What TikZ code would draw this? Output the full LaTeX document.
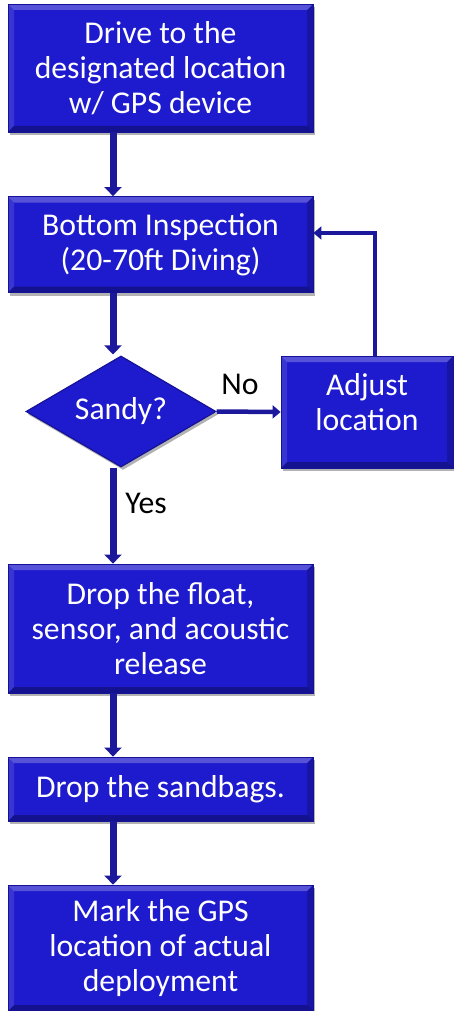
\documentclass[tikz,border=0pt]{standalone}
\usepackage{fontspec}
\setmainfont{Carlito}
\usetikzlibrary{shapes.geometric,arrows.meta,shadows}
\definecolor{boxblue}{RGB}{30,26,205}
\definecolor{boxedge}{RGB}{22,18,150}
\definecolor{arrblue}{RGB}{28,24,155}
\tikzset{
  x=1pt,y=1pt,
  bevel/.style={path picture={
    \fill[white,opacity=0.25] (path picture bounding box.north west) -- (path picture bounding box.north east)
      -- ([xshift=-6pt,yshift=-6pt]path picture bounding box.north east) -- ([xshift=6pt,yshift=-6pt]path picture bounding box.north west) -- cycle;
    \fill[white,opacity=0.12] (path picture bounding box.north west) -- (path picture bounding box.south west)
      -- ([xshift=6pt,yshift=6pt]path picture bounding box.south west) -- ([xshift=6pt,yshift=-6pt]path picture bounding box.north west) -- cycle;
    \fill[black,opacity=0.3] (path picture bounding box.south west) -- (path picture bounding box.south east)
      -- ([xshift=-6pt,yshift=6pt]path picture bounding box.south east) -- ([xshift=6pt,yshift=6pt]path picture bounding box.south west) -- cycle;
    \fill[black,opacity=0.2] (path picture bounding box.north east) -- (path picture bounding box.south east)
      -- ([xshift=-6pt,yshift=6pt]path picture bounding box.south east) -- ([xshift=-6pt,yshift=-6pt]path picture bounding box.north east) -- cycle;
  }},
  stepbox/.style={rectangle,fill=boxblue,draw=boxedge,line width=0.8pt,text=white,bevel,
    align=center,inner sep=0pt,font=\fontsize{31.7}{35}\selectfont,
    drop shadow={shadow xshift=2pt,shadow yshift=-3pt,fill=black,opacity=0.3}},
  decbox/.style={diamond,aspect=1.7,fill=boxblue,draw=boxedge,line width=1.2pt,text=white,
    inner sep=0pt,font=\fontsize{31.7}{35}\selectfont,
    drop shadow={shadow xshift=2pt,shadow yshift=-3pt,fill=black,opacity=0.3}},
  arr/.style={draw=arrblue,line width=7pt,-{Triangle[width=17pt,length=9pt]}},
  arrthin/.style={draw=arrblue,line width=4.5pt,-{Triangle[width=13pt,length=8pt]}},
  lbl/.style={text=black,font=\fontsize{31.7}{35}\selectfont,inner sep=0pt}
}
\begin{document}
\begin{tikzpicture}
\useasboundingbox (0,0) rectangle (454,-1011);
\node[stepbox,minimum width=305,minimum height=128] (b1) at (160.5,-68) {Drive to the\\designated location\\w/ GPS device};
\node[stepbox,minimum width=305,minimum height=96] (b2) at (160.5,-244.5) {Bottom Inspection\\(20-70ft Diving)};
\node[decbox,minimum width=190,minimum height=111] (d) at (121,-411.5) {Sandy?};
\node[stepbox,minimum width=172,minimum height=112,text depth=20pt] (adj) at (367,-412) {Adjust\\location};
\node[stepbox,minimum width=305,minimum height=129] (b3) at (160.5,-628.5) {Drop the float,\\sensor, and acoustic\\release};
\node[stepbox,minimum width=305,minimum height=64] (b4) at (160.5,-789) {Drop the sandbags.};
\node[stepbox,minimum width=305,minimum height=126] (b5) at (160.5,-948) {Mark the GPS\\location of actual\\deployment};
\coordinate (ax) at (113,0);
\coordinate (fb) at (375,-233);
\draw[arr] (b1.south -| ax) -- (b2.north -| ax);
\draw[arr] (b2.south -| ax) -- ([yshift=1pt]d.north -| ax);
\draw[arrthin] (d.east) -- (adj.west);
\draw[arrthin] (adj.north -| fb) |- (b2.east |- fb);
\draw[arr] (d.south -| ax) -- (b3.north -| ax);
\draw[arr] (b3.south -| ax) -- (b4.north -| ax);
\draw[arr] (b4.south -| ax) -- (b5.north -| ax);
\node[lbl] (no) at (240,-384) {No};
\node[lbl] (yes) at (146,-503) {Yes};
\end{tikzpicture}
\end{document}
